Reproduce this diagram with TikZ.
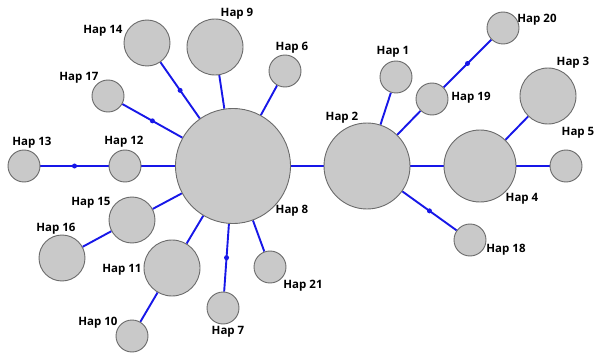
\documentclass[tikz,border=0pt]{standalone}
\usepackage{fontspec}
\setmainfont{Open Sans}
\usetikzlibrary{positioning, backgrounds}
\definecolor{HapFill}{HTML}{C9C9C9}
\definecolor{HapEdge}{HTML}{6B6B6B}
\definecolor{HapBlue}{HTML}{1717E8}

\begin{document}
\begin{tikzpicture}[x=1pt, y=-1pt,
    hap/.style={circle, draw=HapEdge, fill=HapFill, line width=0.9pt, inner sep=0pt, minimum size=#1},
    hap/.default=32pt,
    link/.style={draw=HapBlue, line width=1.9pt},
    mut/.style={circle, fill=HapBlue, inner sep=0pt, minimum size=5pt},
    hlabel/.style={font=\bfseries\fontsize{11.5}{13}\selectfont, inner sep=0pt}]

    \useasboundingbox (0,0) rectangle (598,353);

    % Central haplotypes
    \node[hap=115pt] (h8) at (233,166) {};
    \node[hap=86pt] (h2) at (367,166) {};
    \node[hap=72pt] (h4) at (480,166) {};

    % Left cluster
    \node[hap=46pt] (h14) at (147,43) {};
    \node[hap=56pt] (h9) at (215,47) {};
    \node[hap] (h6) at (285,71) {};
    \node[hap] (h17) at (108,96) {};
    \node[hap] (h12) at (125,166) {};
    \node[hap] (h13) at (24,166) {};
    \node[hap=46pt] (h15) at (132,220) {};
    \node[hap=46pt] (h16) at (62,258) {};
    \node[hap=56pt] (h11) at (172,268) {};
    \node[hap] (h10) at (132,336) {};
    \node[hap] (h7) at (223,308) {};
    \node[hap] (h21) at (270,267) {};

    % Right cluster
    \node[hap] (h1) at (396,77) {};
    \node[hap] (h19) at (432,99) {};
    \node[hap] (h20) at (503,28) {};
    \node[hap=56pt] (h3) at (548,96) {};
    \node[hap] (h5) at (566,166) {};
    \node[hap] (h18) at (470,240) {};

    % Links
    \begin{scope}[on background layer]
        \draw[link] (h8) -- (h14) node[mut, pos=0.5] {};
        \draw[link] (h8) -- (h9);
        \draw[link] (h8) -- (h6);
        \draw[link] (h8) -- (h17) node[mut, pos=0.5] {};
        \draw[link] (h8) -- (h12);
        \draw[link] (h12) -- (h13) node[mut, pos=0.5] {};
        \draw[link] (h8) -- (h15);
        \draw[link] (h15) -- (h16);
        \draw[link] (h8) -- (h11);
        \draw[link] (h11) -- (h10);
        \draw[link] (h8) -- (h7) node[mut, pos=0.5] {};
        \draw[link] (h8) -- (h21);
        \draw[link] (h8) -- (h2);
        \draw[link] (h2) -- (h1);
        \draw[link] (h2) -- (h19);
        \draw[link] (h19) -- (h20) node[mut, pos=0.5] {};
        \draw[link] (h2) -- (h4);
        \draw[link] (h4) -- (h3);
        \draw[link] (h4) -- (h5);
        \draw[link] (h2) -- (h18) node[mut, pos=0.5] {};
    \end{scope}

    % Labels
    \node[hlabel] (l14) at (103,31) {Hap 14};
    \node[hlabel] (l9) at (237,14) {Hap 9};
    \node[hlabel] (l6) at (292,48) {Hap 6};
    \node[hlabel] (l17) at (79,78) {Hap 17};
    \node[hlabel] (l13) at (32,143) {Hap 13};
    \node[hlabel] (l12) at (124,142) {Hap 12};
    \node[hlabel] (l15) at (91,203) {Hap 15};
    \node[hlabel] (l16) at (56,229) {Hap 16};
    \node[hlabel] (l11) at (122,270) {Hap 11};
    \node[hlabel] (l10) at (98,323) {Hap 10};
    \node[hlabel] (l7) at (228,332) {Hap 7};
    \node[hlabel] (l21) at (303,286) {Hap 21};
    \node[hlabel] (l8) at (292,211) {Hap 8};
    \node[hlabel] (l2) at (342,118) {Hap 2};
    \node[hlabel] (l1) at (393,52) {Hap 1};
    \node[hlabel] (l19) at (471,98) {Hap 19};
    \node[hlabel] (l20) at (537,20) {Hap 20};
    \node[hlabel] (l3) at (573,63) {Hap 3};
    \node[hlabel] (l5) at (578,133) {Hap 5};
    \node[hlabel] (l4) at (522,199) {Hap 4};
    \node[hlabel] (l18) at (506,250) {Hap 18};

\end{tikzpicture}
\end{document}
